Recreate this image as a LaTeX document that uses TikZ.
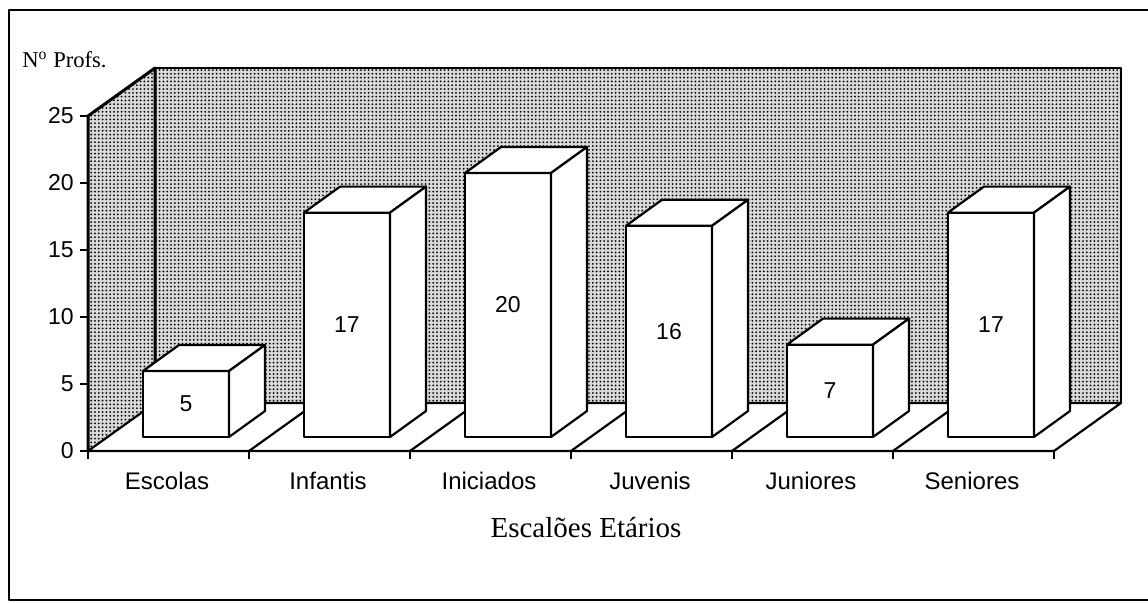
\documentclass[tikz,border=0pt]{standalone}
\usepackage{fontspec}
\setmainfont{Liberation Serif}
\newfontfamily\chartsans{Liberation Sans}
\usepackage{tikz}
\usetikzlibrary{patterns.meta}

\begin{document}
\begin{tikzpicture}[x=0.5pt, y=-0.5pt, line join=round,
    wall/.style={fill=gray!30, postaction={pattern={Dots[distance=1.9pt, radius=0.5pt]}, pattern color=black}},
    barface/.style={draw, fill=white, line width=1.1pt},
    edge/.style={line width=1.5pt},
    numlabel/.style={font=\chartsans\fontsize{11.5}{13}\selectfont},
    catlabel/.style={font=\chartsans\fontsize{12}{14}\selectfont}]
        \useasboundingbox (0,0) rectangle (1148,602);
        % frame
        \draw[line width=1pt] (1148,10) -- (9,10) -- (9,600) -- (1148,600);

        % walls
        \fill[wall] (88,451) -- (88,116) -- (155,68) -- (155,403) -- cycle;
        \fill[wall] (155,68) -- (1121,68) -- (1121,403) -- (155,403) -- cycle;
        \draw[line width=0.8pt] (155,68) -- (1121,68) -- (1121,403);
        \draw[edge] (88,451) -- (88,116) -- (155,68) -- (155,403);

        % floor
        \filldraw[fill=white, line width=1.1pt] (88,451) -- (1054,451) -- (1121,403) -- (155,403) -- cycle;
        \foreach \i in {1,...,5}
            \draw[line width=1.1pt] (88+161*\i,451) -- ++(67,-48);

        % ticks
        \foreach \i in {0,...,6}
            \draw[line width=0.8pt] (88+161*\i,451) -- ++(0,8);
        \foreach \v in {0,5,...,25} {
            \draw[line width=0.8pt] (88,451-13.4*\v) -- ++(-8,0);
            \node[numlabel, anchor=east, inner sep=0pt] (y\v) at (74,451-13.4*\v) {\v};
        }

        % bars
        \foreach \i/\v/\name in {0/5/Escolas, 1/17/Infantis, 2/20/Iniciados, 3/16/Juvenis, 4/7/Juniores, 5/17/Seniores} {
            \pgfmathsetmacro\h{13.2*\v}
            \pgfmathsetmacro\ly{437-\h/2}
            \coordinate (b\i) at (143+161*\i,437);
            \filldraw[barface] (b\i) rectangle ++(86,-\h);
            \filldraw[barface] (b\i) ++(0,-\h) -- ++(36,-26) -- ++(86,0) -- ++(-36,26) -- cycle;
            \filldraw[barface] (b\i) ++(86,0) -- ++(36,-26) -- ++(0,-\h) -- ++(-36,26) -- cycle;
            \node[numlabel] (val\i) at (186+161*\i,\ly) {\v};
            \node[catlabel] (cat\i) at (167+161*\i,481) {\name};
        }

        % titles
        \node[font=\fontsize{11.3}{13}\selectfont, anchor=base west, inner sep=0pt] (ytitle) at (22,67) {N\textsuperscript{o} Profs.};
        \node[font=\fontsize{14.5}{17}\selectfont] (xtitle) at (586,528) {Escalões Etários};
    \end{tikzpicture}
\end{document}
